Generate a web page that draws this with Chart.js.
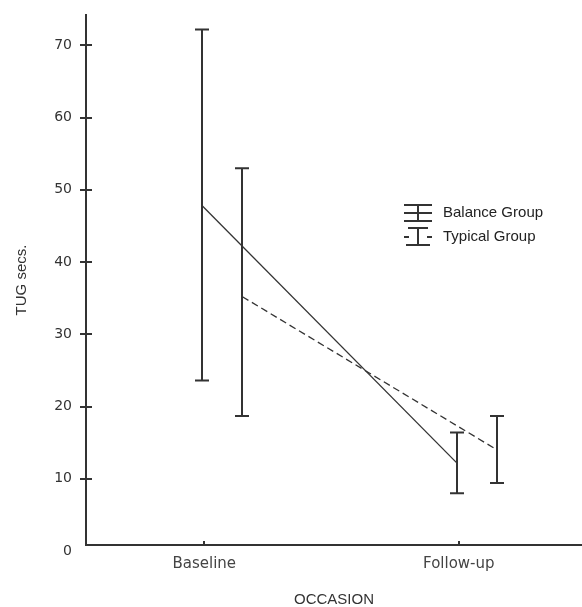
<!DOCTYPE html>
<html>
<head>
<meta charset="utf-8">
<script src="https://cdn.jsdelivr.net/npm/chart.js@4/dist/chart.umd.min.js"></script>
<style>
  html, body { margin: 0; padding: 0; background: #ffffff; }
  #wrap { width: 582px; height: 607px; }
</style>
</head>
<body>
<div id="wrap"><canvas id="c" width="582" height="607"></canvas></div>
<script>
// ---- data ----
const categories = ['Baseline', 'Follow-up'];
const groupNames = ['Balance Group', 'Typical Group'];
const balanceMean  = [47.8, 12.2];
const balanceLower = [23.6, 8.0];
const balanceUpper = [72.2, 16.4];
const typicalMean  = [35.2, 14.0];
const typicalLower = [18.7, 9.4];
const typicalUpper = [53.0, 18.7];
const yTicks = [0, 10, 20, 30, 40, 50, 60, 70];

// ---- styling / layout ----
const INK = '#333333';
const groupOffset = [-0.008, 0.15];   // cluster offset within a category
const capHalf = 7;

const groups = [
  { mean: balanceMean, lower: balanceLower, upper: balanceUpper, dash: [] },
  { mean: typicalMean, lower: typicalLower, upper: typicalUpper, dash: [7, 4] }
];

const datasets = groups.map((g, gi) => ({
  label: groupNames[gi],
  data: g.mean.map((m, i) => ({ x: i + groupOffset[gi], y: m })),
  borderColor: INK,
  borderWidth: 1.3,
  borderDash: g.dash,
  pointRadius: 0,
  fill: false,
  tension: 0
}));

const errorBars = {
  id: 'errorBars',
  afterDatasetsDraw(chart) {
    const { ctx, scales: { x, y } } = chart;
    ctx.save();
    ctx.strokeStyle = INK;
    ctx.lineWidth = 2;
    ctx.setLineDash([]);
    groups.forEach((g, gi) => {
      g.mean.forEach((m, i) => {
        const px = Math.round(x.getPixelForValue(i + groupOffset[gi]));
        const yt = y.getPixelForValue(g.upper[i]);
        const yb = y.getPixelForValue(g.lower[i]);
        ctx.beginPath();
        ctx.moveTo(px, yt); ctx.lineTo(px, yb);
        ctx.moveTo(px - capHalf, yt); ctx.lineTo(px + capHalf, yt);
        ctx.moveTo(px - capHalf, yb); ctx.lineTo(px + capHalf, yb);
        ctx.stroke();
      });
    });
    ctx.restore();
  }
};

const axisMarks = {
  id: 'axisMarks',
  afterDraw(chart) {
    const { ctx, scales: { x, y }, chartArea } = chart;
    ctx.save();
    ctx.strokeStyle = INK;
    ctx.lineWidth = 2;
    yTicks.forEach(v => {
      if (v === 0) return;
      const py = Math.round(y.getPixelForValue(v));
      ctx.beginPath();
      ctx.moveTo(chartArea.left - 6, py);
      ctx.lineTo(chartArea.left + 6, py);
      ctx.stroke();
    });
    categories.forEach((c, i) => {
      const px = Math.round(x.getPixelForValue(i));
      ctx.beginPath();
      ctx.moveTo(px, chartArea.bottom);
      ctx.lineTo(px, chartArea.bottom - 4);
      ctx.stroke();
    });
    // legend
    const lx = 418, lw = 14;
    ctx.lineWidth = 2;
    const b = [205, 213, 221];
    ctx.beginPath();
    b.forEach(yy => { ctx.moveTo(lx - lw, yy); ctx.lineTo(lx + lw, yy); });
    ctx.moveTo(lx, b[0]); ctx.lineTo(lx, b[2]);
    ctx.stroke();
    const t = [228, 237, 245];
    ctx.beginPath();
    ctx.moveTo(lx - 10, t[0]); ctx.lineTo(lx + 10, t[0]);
    ctx.moveTo(lx - 12, t[2]); ctx.lineTo(lx + 12, t[2]);
    ctx.moveTo(lx, t[0]); ctx.lineTo(lx, t[2]);
    ctx.moveTo(lx - 14, t[1]); ctx.lineTo(lx - 9, t[1]);
    ctx.moveTo(lx + 9, t[1]); ctx.lineTo(lx + 14, t[1]);
    ctx.stroke();
    ctx.fillStyle = '#222';
    ctx.font = '15px "Liberation Sans", Arial, sans-serif';
    ctx.textBaseline = 'middle';
    ctx.textAlign = 'left';
    ctx.fillText(groupNames[0], 443, 213);
    ctx.fillText(groupNames[1], 443, 237);
    ctx.restore();
  }
};

new Chart(document.getElementById('c'), {
  type: 'line',
  data: { datasets },
  options: {
    responsive: false,
    animation: false,
    layout: { padding: { top: 15, right: 0, bottom: 0, left: 0 } },
    plugins: { legend: { display: false }, tooltip: { enabled: false } },
    scales: {
      x: {
        type: 'linear',
        min: -0.4645,
        max: 1.484,
        grid: { display: false, drawTicks: false },
        border: { display: true, color: INK, width: 2 },
        afterBuildTicks: (axis) => { axis.ticks = categories.map((c, i) => ({ value: i })); },
        afterFit: (axis) => { axis.height = 62; axis.paddingLeft = 0; axis.paddingRight = 0; },
        ticks: {
          autoSkip: false,
          maxRotation: 0,
          padding: 10,
          color: '#444',
          font: { family: '"DejaVu Sans", Verdana, sans-serif', size: 15 },
          callback: (v) => categories[v] ?? ''
        },
        title: {
          display: true,
          text: 'OCCASION',
          color: '#333',
          font: { family: '"Liberation Sans", Arial, sans-serif', size: 15 },
          padding: { top: 0, bottom: -2 }
        }
      },
      y: {
        min: 0.83,
        max: 74.2,
        grid: { display: false, drawTicks: false },
        border: { display: true, color: INK, width: 2 },
        afterBuildTicks: (axis) => { axis.ticks = yTicks.map(v => ({ value: v })); },
        afterFit: (axis) => { axis.width = 86; axis.paddingTop = 0; axis.paddingBottom = 0; },
        ticks: {
          autoSkip: false,
          padding: 14,
          color: '#333',
          font: { family: '"DejaVu Sans", Verdana, sans-serif', size: 14 },
          callback: (v) => String(v)
        },
        title: {
          display: true,
          text: 'TUG secs.',
          color: '#333',
          font: { family: '"Liberation Sans", Arial, sans-serif', size: 15 },
          padding: { top: 13, bottom: 0 }
        }
      }
    }
  },
  plugins: [errorBars, axisMarks]
});
</script>
</body>
</html>
